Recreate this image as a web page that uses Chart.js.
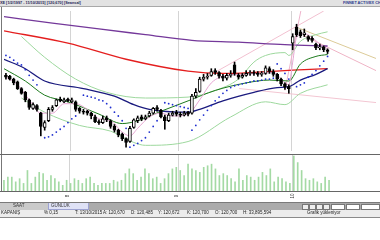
<!DOCTYPE html>
<html>
<head>
<meta charset="utf-8">
<script src="https://cdn.jsdelivr.net/npm/chart.js@4.4.0/dist/chart.umd.min.js"></script>
<style>
  html, body { margin: 0; padding: 0; background: #fff; }
  #wrap { position: relative; width: 380px; height: 240px; overflow: hidden; font-family: "Liberation Sans", Arial, sans-serif; }
  .box { position: absolute; }
  .t { position: absolute; white-space: nowrap; font-size: 4.5px; line-height: 6px; color: #222; }
  canvas { position: absolute; left: 0; }
</style>
</head>
<body>
<div id="wrap">
  <!-- başlık şeridi -->
  <div class="box" style="left:0;top:0;width:380px;height:6px;background:#e2e2e2;border-bottom:1px solid #a8a8a8"></div>
  <div class="t" style="left:0;top:0;color:#1c1c55;font-weight:bold;font-size:3.8px">XE [1/2/1997 - 11/10/2015] [120,670] [Seansal]</div>
  <div class="t" style="left:343px;top:0;color:#2a3a8c;font-weight:bold;font-size:3.8px">FİNNET ACTIVEX CHART</div>

  <canvas id="price" width="380" height="148" style="top:7px"></canvas>
  <canvas id="volume" width="380" height="36" style="top:155px"></canvas>

  <!-- panel çerçeveleri -->
  <div class="box" style="left:1px;top:7px;width:1px;height:185px;background:#777"></div>
  <div class="box" style="left:0;top:154px;width:380px;height:1px;background:#666"></div>
  <div class="box" style="left:0;top:191px;width:380px;height:1px;background:#666"></div>

  <div id="ticks"></div>

  <!-- alt durum çubuğu -->
  <div class="box" style="left:0;top:202px;width:380px;height:1px;background:#7a7a7a"></div>
  <div class="box" style="left:0;top:203px;width:380px;height:7px;background:#ababab"></div>
  <div class="box" style="left:0;top:203px;width:48px;height:7px;background:#cacaca"></div>
  <div class="t" style="left:13px;top:203px;color:#333">SAAT</div>
  <div class="box" style="left:48px;top:203px;width:39px;height:6px;background:#dfe2f6;border:1px solid #9da3d2;border-top:none"></div>
  <div class="t" style="left:51px;top:203px;color:#333">GÜNLÜK</div>
  <div class="box" style="left:302px;top:204px;width:5px;height:4px;background:#eee;border:1px solid #777"></div>
  <div class="box" style="left:309px;top:204px;width:5px;height:4px;background:#eee;border:1px solid #777"></div>
  <div class="box" style="left:316px;top:204px;width:5px;height:4px;background:#eee;border:1px solid #777"></div>
  <div class="box" style="left:323px;top:204px;width:5px;height:4px;background:#eee;border:1px solid #777"></div>
  <div class="box" style="left:331px;top:204px;width:12px;height:4px;background:#fff;border:1px solid #777"></div>
  <div class="box" style="left:346px;top:204px;width:12px;height:4px;background:#fff;border:1px solid #777"></div>
  <div class="box" style="left:361px;top:204px;width:17px;height:4px;background:#fff;border:1px solid #777"></div>
  <div class="box" style="left:0;top:210px;width:380px;height:7px;background:#ececec;border-bottom:1px solid #8a8a8a"></div>
  <div class="t" style="left:1px;top:210px">KAPANIŞ</div>
  <div class="t" style="left:44px;top:210px">% 0,15</div>
  <div class="t" style="left:75px;top:210px">T: 13/10/2015</div>
  <div class="t" style="left:103px;top:210px">A: 120,670</div>
  <div class="t" style="left:131px;top:210px">D: 120,485</div>
  <div class="t" style="left:158px;top:210px">Y: 120,672</div>
  <div class="t" style="left:187px;top:210px">K: 120,700</div>
  <div class="t" style="left:215px;top:210px">O: 120,700</div>
  <div class="t" style="left:243px;top:210px">H: 33,895,594</div>
  <div class="t" style="left:307px;top:210px">Grafik yükleniyor</div>
</div>

<script>
// mum verileri (seanslık)
const candleOpen = [108, 107.5, 106, 104.5, 101, 99, 95, 90.5, 92, 88, 80.5, 84, 90, 92, 95.5, 94, 95.5, 94, 94, 90.5,
  89, 89, 88, 86, 83.5, 83, 85.5, 84, 81, 79, 77, 74.5, 73, 80.5, 84, 86, 85, 86.5, 88, 91,
  89.5, 86, 84, 87, 88.5, 87.5, 87, 88.5, 88, 97, 99.5, 106, 107, 108, 110.5, 109.5, 107.5, 106.5, 108, 113.5,
  108, 107, 108, 109, 109.5, 109, 108.5, 109, 111.5, 110, 108.5, 106, 103.5, 102, 125, 133.5, 131, 129.5, 128.5, 127.5,
  124.5, 122.5, 123, 121.5];
const candleHigh = [109, 108, 106.5, 105, 101.5, 99.5, 95.5, 93.5, 92.5, 88.5, 84, 91, 92, 95.5, 96.5, 96, 96, 96, 94.5, 91,
  90, 89.5, 88.5, 87, 84.5, 86.5, 86.5, 84.5, 82, 79.5, 77.5, 75, 81, 85, 86.5, 87, 87, 89, 91, 92,
  90, 87, 88, 89, 89.5, 88.5, 89, 89, 98, 101, 107, 108.5, 109, 111.5, 111.5, 110, 108.5, 109, 110.5, 115,
  109, 109, 110.5, 110.5, 110.5, 110, 110, 113, 112.5, 111, 109, 106.5, 104, 103, 130, 135, 132, 132.5, 129, 128.5,
  125, 124.5, 123.5, 122];
const candleLow = [106, 105.5, 103, 100.5, 98, 94, 90, 90, 89, 76, 79, 83.5, 89, 91.5, 94, 93.5, 94, 93.5, 89, 88,
  87.5, 87, 85, 83, 82, 82.5, 83.5, 80, 78, 75.5, 73.5, 70, 72.5, 80, 83, 84, 84.5, 86, 87.5, 89,
  85.5, 79.5, 83.5, 86.5, 86.5, 86, 86.5, 86.5, 87.5, 96, 99, 105, 106, 107.5, 108.5, 106.5, 105, 105.5, 107, 108,
  106, 106.5, 107.5, 108, 108, 107.5, 107.5, 108.5, 109, 107.5, 105, 102.5, 100.5, 98.5, 121.5, 128.5, 128, 128.5, 126, 125.5,
  121.5, 121.5, 120.5, 119.5];
const candleClose = [107, 106, 104, 101, 98.5, 95, 91, 92.5, 90, 81, 83, 90, 91, 95, 94.5, 95, 94.5, 95, 90, 89,
  88.5, 88, 86.5, 83.5, 83, 85, 84.5, 81, 79, 76.5, 74.5, 72.5, 80, 84.5, 85.5, 85, 86, 88, 90.5, 90,
  86, 84, 87, 88, 87.5, 87, 88, 87.5, 97, 99, 106, 107, 107.5, 110, 109.5, 107.5, 106.5, 108, 108.5, 109,
  107, 108, 109, 109.5, 109, 108.5, 109, 112, 110, 108.5, 106, 103.5, 102, 101, 128.5, 129.5, 129, 130.5, 127, 126.5,
  122.5, 123, 121.5, 120.67];

// hacim (milyon lot)
const volume = [34, 44, 44, 29, 39, 24, 65, 24, 44, 59, 55, 34, 49, 39, 29, 18, 34, 24, 39, 34,
  24, 39, 44, 24, 18, 24, 24, 24, 34, 29, 34, 55, 70, 55, 34, 44, 70, 55, 39, 44,
  24, 39, 55, 70, 75, 65, 49, 85, 70, 65, 59, 75, 80, 85, 70, 49, 55, 49, 39, 29,
  70, 34, 49, 44, 34, 44, 59, 49, 70, 29, 44, 39, 29, 24, 111, 90, 65, 39, 34, 39,
  29, 24, 44, 34];

// parabolik SAR
const sarValues = [118.5, 117.5, 116, 114.5, 113.5, 111, 108, 105.5, 103, null, 75, 75.5, 76.5, 78, 79.5, 81, 83, 85, 86.5, null,
  97.5, 97, 96.5, 96, 95, 94.5, 93, 91, 88.5, 86.5, 84, 80, 70, 71, 72, 73.5, 75, 78, 81, 84,
  null, 93.5, 93, 92.5, 92, 91.5, 91, 90.5, 79, 81.5, 84.5, 87, 89.5, 92, 94.5, 96.5, 98.5, 100, 101.5, 102.5,
  103, 103.5, 104, 104.5, 105, 105, 105.5, 106, 106, 106.5, 114, 111.5, 109, 106, null, 102, 103, 104, 107, 108.5,
  110.5, 113, 115.5, 118];

// ortalamalar ve bantlar (mum sırası, değer)
const purpleIdx = [-0.5, 12, 24, 36, 48, 60, 72, 83];
const purpleVal = [139, 135.6, 132.5, 129.5, 126.5, 125.5, 124.2, 123.5];
const redIdx = [-0.5, 16, 31, 47, 56, 65, 74, 83];
const redVal = [131.5, 125, 116.5, 110.2, 109, 109.7, 110.7, 111.5];
const navyIdx = [-0.5, 5, 10, 20, 28, 33, 37, 47, 50, 56, 64, 70, 73, 76, 80, 83];
const navyVal = [116.5, 111.5, 105, 101, 97, 92.5, 90, 88.5, 90, 94.5, 99, 101.5, 102, 105.5, 108.5, 111.5];
const greenIdx = [-0.5, 5, 10, 16, 24, 30, 34, 40, 47, 54, 62, 68, 73, 76, 80, 83];
const greenVal = [111.5, 105, 97.5, 94, 87.5, 82.5, 84, 89, 94.5, 100, 104, 105.5, 105, 114, 118, 119];
const bandUpIdx = [4, 10, 18, 26, 36, 47, 54, 60, 64, 67, 72, 73, 76, 80, 83];
const bandUpVal = [128.5, 117.5, 106, 99, 96, 96.5, 100, 106, 115, 118.5, 120, 118.5, 126, 129.5, 131];
const bandLoIdx = [4, 10, 19, 27, 33, 36, 47, 58, 67, 72, 76, 83];
const bandLoVal = [96, 88.5, 81.5, 78.5, 72.5, 71, 73, 86, 94, 92.5, 98.5, 103];
const pinkIdx = [0, 3, 6, 9, 12, 15, 18, 21, 24, 27, 30, 32, 34, 37, 40, 43, 47, 50, 53, 57, 61, 65, 69, 72, 73, 74, 75, 77, 79, 81, 83];
const pinkVal = [107, 103, 95, 88, 88, 93, 93, 90, 85, 84, 78, 76, 80, 86, 88, 86.5, 87.5, 95, 104, 108, 108.5, 109, 109.5, 104, 103, 115, 128, 130, 128, 124.5, 122];

// trend / fan çizgileri
const trendUpIdx = [50, 82];
const trendUpVal = [105, 142];
const trendSteepIdx = [72, 76.1];
const trendSteepVal = [100, 142];
const fanTanIdx = [75.5, 96];
const fanTanVal = [133, 116.5];
const fanPinkIdx = [76.8, 96];
const fanPinkVal = [129, 110];
const fanLowIdx = [60.2, 96];
const fanLowVal = [101, 93.5];

// ay ayraçları
const monthBreaks = [16.5, 44.5, 73.5];
const monthLabels = ['8', '9', '10'];

const pts = (idx, val) => idx.map((x, k) => ({ x: x, y: val[k] }));

function lineSet(idx, val, color, width, order) {
  return {
    type: 'line', data: pts(idx, val), borderColor: color, borderWidth: width,
    pointRadius: 0, fill: false, cubicInterpolationMode: 'monotone', order: order
  };
}

// ay sınırlarında dikey ızgara
const monthGrid = {
  id: 'monthGrid',
  beforeDatasetsDraw(chart) {
    const { ctx, chartArea, scales } = chart;
    ctx.save();
    ctx.strokeStyle = '#d4d4d4';
    ctx.lineWidth = 1;
    monthBreaks.forEach(v => {
      const px = Math.round(scales.x.getPixelForValue(v)) + 0.5;
      ctx.beginPath();
      ctx.moveTo(px, chartArea.top);
      ctx.lineTo(px, chartArea.bottom);
      ctx.stroke();
    });
    ctx.restore();
  }
};

const xScale = { type: 'linear', min: -0.5, max: 95.5, offset: false, display: false };
const baseOpts = {
  responsive: false, animation: false, devicePixelRatio: 1,
  layout: { padding: { left: 2, right: 2, top: 0, bottom: 0 } },
  plugins: { legend: { display: false }, tooltip: { enabled: false } }
};

const priceChart = new Chart(document.getElementById('price'), {
  type: 'bar',
  data: {
    datasets: [
      {
        type: 'bar', order: 0, grouped: false, barThickness: 3,
        data: candleOpen.map((o, i) => ({ x: i, y: [o, candleClose[i]] })),
        backgroundColor: candleOpen.map((o, i) => candleClose[i] >= o ? '#ffffff' : '#000000'),
        borderColor: '#000', borderWidth: 1, borderSkipped: false
      },
      {
        type: 'bar', order: 1, grouped: false, barThickness: 1,
        data: candleLow.map((l, i) => ({ x: i, y: [l, candleHigh[i]] })),
        backgroundColor: '#000'
      },
      {
        type: 'line', order: 3, showLine: false,
        data: sarValues.map((v, i) => v === null ? null : { x: i, y: v }).filter(Boolean),
        pointRadius: 0.9, pointBorderWidth: 0, pointBackgroundColor: '#1f2fd0'
      },
      lineSet(pinkIdx, pinkVal, '#e6a6d2', 1, 4),
      lineSet(greenIdx, greenVal, '#1d7a1d', 1, 5),
      lineSet(navyIdx, navyVal, '#1a1a7e', 1.3, 5),
      lineSet(redIdx, redVal, '#e41e1e', 1.3, 5),
      lineSet(purpleIdx, purpleVal, '#74389a', 1.3, 5),
      lineSet(bandUpIdx, bandUpVal, '#9dd89d', 1, 8),
      lineSet(bandLoIdx, bandLoVal, '#9dd89d', 1, 8),
      lineSet(trendUpIdx, trendUpVal, '#f2c0d0', 1, 10),
      lineSet(trendSteepIdx, trendSteepVal, '#eeb4cc', 1, 10),
      lineSet(fanTanIdx, fanTanVal, '#dccb98', 1, 10),
      lineSet(fanPinkIdx, fanPinkVal, '#efb4c6', 1, 10),
      lineSet(fanLowIdx, fanLowVal, '#f3c6d2', 1, 10)
    ]
  },
  options: Object.assign({}, baseOpts, {
    scales: { x: xScale, y: { min: 68, max: 142, display: false } }
  }),
  plugins: [monthGrid]
});

const volumeChart = new Chart(document.getElementById('volume'), {
  type: 'bar',
  data: {
    datasets: [{
      data: volume.map((v, i) => ({ x: i, y: v })),
      backgroundColor: '#a4daa4', barThickness: 1
    }]
  },
  options: Object.assign({}, baseOpts, {
    scales: { x: xScale, y: { min: 0, max: 114, display: false } }
  }),
  plugins: [monthGrid]
});

// ay etiketleri (dikey)
const ticks = document.getElementById('ticks');
monthBreaks.forEach((v, k) => {
  const px = volumeChart.scales.x.getPixelForValue(v);
  const d = document.createElement('div');
  d.className = 't';
  d.textContent = monthLabels[k];
  d.style.left = (px - 2) + 'px';
  d.style.top = '193px';
  d.style.color = '#333';
  d.style.transform = 'rotate(-90deg)';
  ticks.appendChild(d);
});
</script>
</body>
</html>
